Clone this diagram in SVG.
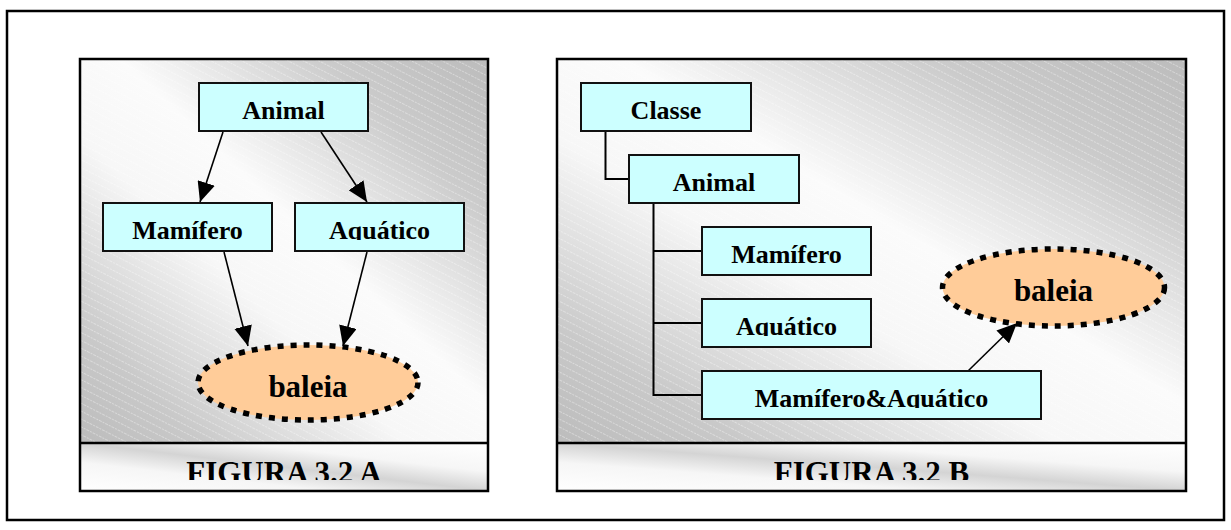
<svg xmlns="http://www.w3.org/2000/svg" width="1231" height="530" viewBox="0 0 1231 530">
<style>
.panel{stroke:#000;stroke-width:2.5;}
.box{fill:#ccffff;stroke:#111;stroke-width:2;}
.lbl{font-family:"Liberation Serif","Times New Roman",serif;font-weight:bold;font-size:26px;fill:#000;text-anchor:middle;}
.big{font-size:31px;}
.cap{font-size:31px;}
.whale{fill:#ffcc99;stroke:#000;stroke-width:5.5;stroke-dasharray:6 7;}
.edge{stroke:#000;stroke-width:1.6;fill:none;}
.tree{stroke:#000;stroke-width:2;fill:none;}
</style>
<defs>
<linearGradient id="bg" x1="1" y1="0" x2="0" y2="1">
<stop offset="0" stop-color="#bcbcbc"/>
<stop offset="0.2" stop-color="#cbcbcb"/>
<stop offset="0.45" stop-color="#fbfbfb"/>
<stop offset="0.6" stop-color="#f7f7f7"/>
<stop offset="0.85" stop-color="#c9c9c9"/>
<stop offset="1" stop-color="#bcbcbc"/>
</linearGradient>
<linearGradient id="capbg" x1="0" y1="1" x2="1" y2="0">
<stop offset="0" stop-color="#ffffff"/>
<stop offset="0.3" stop-color="#f6f6f6"/>
<stop offset="0.5" stop-color="#d4d4d4"/>
<stop offset="0.7" stop-color="#f6f6f6"/>
<stop offset="1" stop-color="#ffffff"/>
</linearGradient>
<pattern id="stripes" width="7" height="7" patternUnits="userSpaceOnUse" patternTransform="rotate(27)">
<line x1="0" y1="0.5" x2="7" y2="0.5" stroke="#ffffff" stroke-opacity="0.35" stroke-width="1" stroke-dasharray="2 1"/>
</pattern>
<marker id="arr" markerUnits="userSpaceOnUse" markerWidth="20" markerHeight="18" viewBox="0 0 20 18" refX="20" refY="9" orient="auto">
<path d="M0,0 L20,9 L0,18 z" fill="#000"/>
</marker>
<clipPath id="clipCapA"><rect x="80" y="443" width="408" height="37"/></clipPath>
<clipPath id="clipCapB"><rect x="557" y="443" width="629" height="37"/></clipPath>
<clipPath id="clipAqA"><rect x="295" y="203" width="169" height="37"/></clipPath>
<clipPath id="clipAqB"><rect x="702" y="299" width="169" height="37"/></clipPath>
<clipPath id="clipMA"><rect x="702" y="371" width="339" height="37"/></clipPath>
</defs>

<rect x="7" y="11" width="1217" height="509" fill="#fff" stroke="#000" stroke-width="2.5"/>

<g id="panelA">
<rect x="80" y="59" width="408" height="384" fill="url(#bg)"/>
<rect x="80" y="59" width="408" height="384" fill="url(#stripes)"/>
<rect x="80" y="443" width="408" height="48" fill="url(#capbg)"/>
<rect x="80" y="59" width="408" height="432" fill="none" class="panel"/>
<line x1="80" y1="443" x2="488" y2="443" class="panel"/>
<text x="284" y="482.5" class="lbl cap" clip-path="url(#clipCapA)">FIGURA 3.2 A</text>
</g>

<g id="panelB">
<rect x="557" y="59" width="629" height="384" fill="url(#bg)"/>
<rect x="557" y="59" width="629" height="384" fill="url(#stripes)"/>
<rect x="557" y="443" width="629" height="48" fill="url(#capbg)"/>
<rect x="557" y="59" width="629" height="432" fill="none" class="panel"/>
<line x1="557" y1="443" x2="1186" y2="443" class="panel"/>
<text x="871.5" y="482.5" class="lbl cap" clip-path="url(#clipCapB)">FIGURA 3.2 B</text>
</g>

<g id="connectors">
<line x1="223" y1="132" x2="200" y2="202" class="edge" marker-end="url(#arr)"/>
<line x1="321" y1="132" x2="367" y2="202" class="edge" marker-end="url(#arr)"/>
<line x1="224" y1="252" x2="248" y2="346" class="edge" marker-end="url(#arr)"/>
<line x1="367" y1="252" x2="343" y2="346" class="edge" marker-end="url(#arr)"/>
<polyline points="605.5,131 605.5,179 629,179" class="tree"/>
<polyline points="653.5,203 653.5,395 702,395" class="tree"/>
<line x1="653.5" y1="251" x2="702" y2="251" class="tree"/>
<line x1="653.5" y1="323" x2="702" y2="323" class="tree"/>
<line x1="968" y1="371" x2="1017" y2="323" class="edge" marker-end="url(#arr)"/>
</g>

<g id="A-animal">
<rect x="199" y="83" width="169" height="48" class="box"/>
<text x="283.5" y="119" class="lbl">Animal</text>
</g>
<g id="A-mamifero">
<rect x="103" y="203" width="169" height="48" class="box"/>
<text x="187.5" y="239" class="lbl">Mamífero</text>
</g>
<g id="A-aquatico">
<rect x="295" y="203" width="169" height="48" class="box"/>
<text x="379.5" y="239" class="lbl" clip-path="url(#clipAqA)">Aquático</text>
</g>
<g id="A-baleia">
<ellipse cx="308" cy="382.5" rx="110" ry="37.5" class="whale"/>
<text x="308" y="397" class="lbl big">baleia</text>
</g>

<g id="B-classe">
<rect x="581" y="83" width="170" height="48" class="box"/>
<text x="666" y="119" class="lbl">Classe</text>
</g>
<g id="B-animal">
<rect x="629" y="155" width="170" height="48" class="box"/>
<text x="714" y="190.5" class="lbl">Animal</text>
</g>
<g id="B-mamifero">
<rect x="702" y="227" width="169" height="48" class="box"/>
<text x="786.5" y="263" class="lbl">Mamífero</text>
</g>
<g id="B-aquatico">
<rect x="702" y="299" width="169" height="48" class="box"/>
<text x="786.5" y="335" class="lbl" clip-path="url(#clipAqB)">Aquático</text>
</g>
<g id="B-mamaq">
<rect x="702" y="371" width="339" height="48" class="box"/>
<text x="871.5" y="407" class="lbl" clip-path="url(#clipMA)">Mamífero&amp;Aquático</text>
</g>
<g id="B-baleia">
<ellipse cx="1053.5" cy="287.5" rx="111" ry="38.5" class="whale"/>
<text x="1053.5" y="301" class="lbl big">baleia</text>
</g>
</svg>
